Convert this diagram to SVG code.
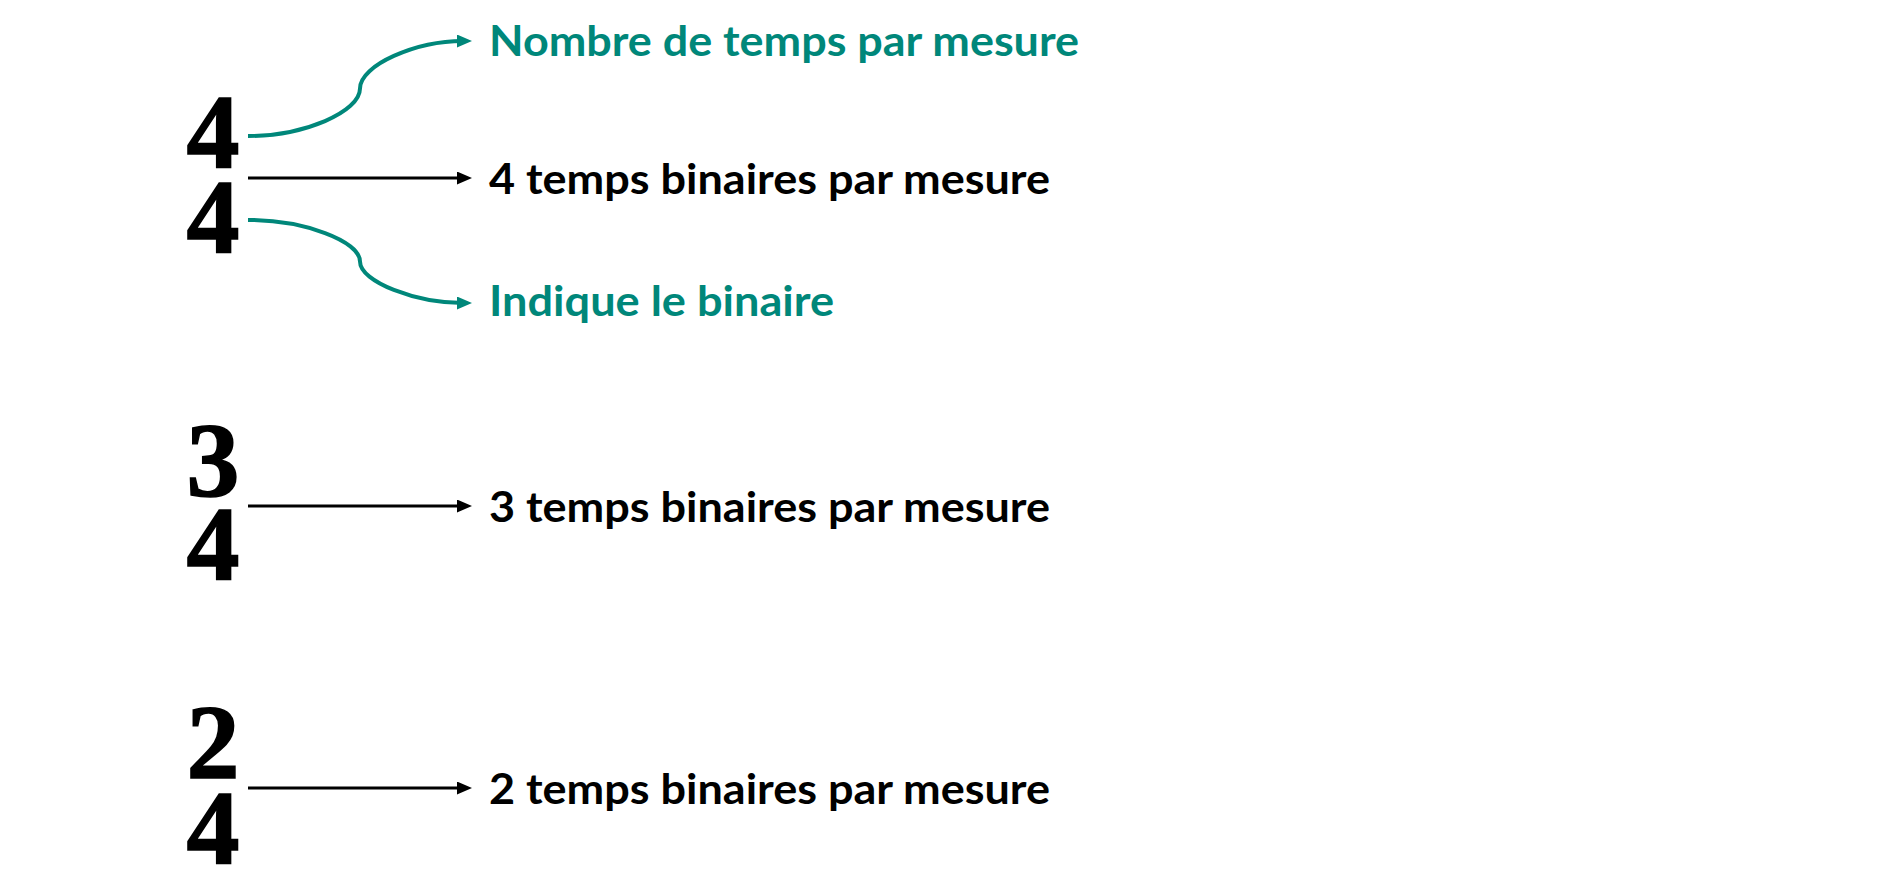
<svg xmlns="http://www.w3.org/2000/svg" width="1904" height="880" viewBox="0 0 1904 880">
  <style>
    .num { font-family: "Liberation Serif", "Times New Roman", serif; font-weight: 700; font-size: 106px; fill: #000; stroke: #000; stroke-width: 1.5px; text-anchor: middle; }
    .lbl { font-family: Lato, "Open Sans", sans-serif; font-weight: 700; font-size: 42px; }
    .black { fill: #000; }
    .teal { fill: #00877A; }
    .arr { fill: none; stroke: #000; stroke-width: 3.2; }
    .tarr { fill: none; stroke: #00877A; stroke-width: 4; }
  </style>
  <defs>
    <marker id="ahB" markerUnits="userSpaceOnUse" markerWidth="16" markerHeight="14" refX="6" refY="6.5" orient="auto">
      <path d="M0,0 L15,6.5 L0,13 z" fill="#000"/>
    </marker>
    <marker id="ahT" markerUnits="userSpaceOnUse" markerWidth="16" markerHeight="14" refX="6" refY="6.5" orient="auto">
      <path d="M0,0 L15,6.5 L0,13 z" fill="#00877A"/>
    </marker>
  </defs>
  <rect x="0" y="0" width="1904" height="880" fill="#fff"/>

  <g id="sig44">
    <text class="num"><tspan x="213" y="168">4</tspan><tspan x="213" y="253">4</tspan></text>
  </g>
  <g id="sig34">
    <text class="num"><tspan x="213" y="496">3</tspan><tspan x="213" y="580">4</tspan></text>
  </g>
  <g id="sig24">
    <text class="num"><tspan x="213" y="778">2</tspan><tspan x="213" y="864">4</tspan></text>
  </g>

  <g id="label-nombre">
    <text class="lbl teal" x="489" y="56" textLength="590" lengthAdjust="spacingAndGlyphs">Nombre de temps par mesure</text>
  </g>
  <g id="label-44">
    <text class="lbl black" x="489" y="194" textLength="561" lengthAdjust="spacingAndGlyphs">4 temps binaires par mesure</text>
  </g>
  <g id="label-indique">
    <text class="lbl teal" x="489" y="316" textLength="345" lengthAdjust="spacingAndGlyphs">Indique le binaire</text>
  </g>
  <g id="label-34">
    <text class="lbl black" x="489" y="522" textLength="561" lengthAdjust="spacingAndGlyphs">3 temps binaires par mesure</text>
  </g>
  <g id="label-24">
    <text class="lbl black" x="489" y="804" textLength="561" lengthAdjust="spacingAndGlyphs">2 temps binaires par mesure</text>
  </g>

  <g id="connectors">
    <path class="tarr" marker-end="url(#ahT)" d="M248,136 C304,136 360,112 360,88.5 C360,65 416,41 463,41"/>
    <path class="tarr" marker-end="url(#ahT)" d="M248,220 C304,220 360,241 360,261.5 C360,282 416,303 463,303"/>
    <path class="arr" marker-end="url(#ahB)" d="M248,178 L463,178"/>
    <path class="arr" marker-end="url(#ahB)" d="M248,506 L463,506"/>
    <path class="arr" marker-end="url(#ahB)" d="M248,788 L463,788"/>
  </g>
</svg>
